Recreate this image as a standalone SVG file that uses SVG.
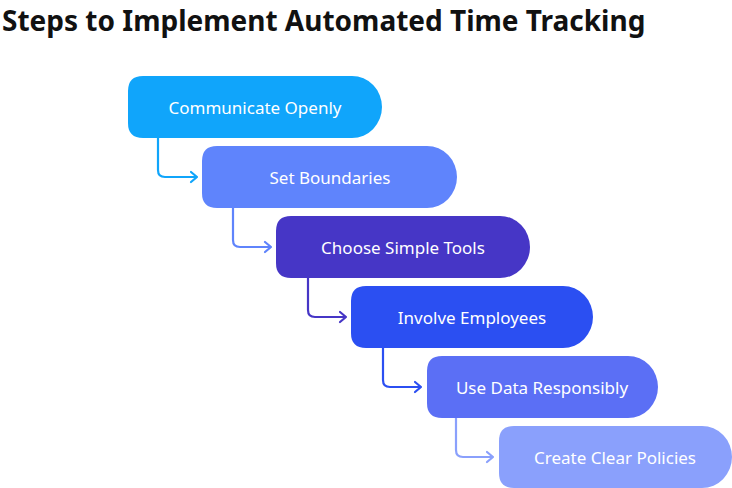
<svg xmlns="http://www.w3.org/2000/svg" width="732" height="488" viewBox="0 0 732 488">
<defs>
<style>
.t{font-family:"Noto Sans","Open Sans",sans-serif;font-size:17px;fill:#fff;text-anchor:middle;dominant-baseline:central}
.c{fill:none;stroke-width:2.2;stroke-linecap:round;stroke-linejoin:round}
</style>
</defs>
<rect width="732" height="488" fill="#fff"/>
<text x="2" y="31" font-family="Noto Sans,Open Sans,sans-serif" font-size="28" font-weight="700" fill="#111">Steps to Implement Automated Time Tracking</text>
<g id="connectors">
<path class="c" stroke="#10a5fb" d="M158 138V170Q158 177 165 177H197M191 172L197 177L191 182"/>
<path class="c" stroke="#5f84fc" d="M233 208V240Q233 247 240 247H271M265 242L271 247L265 252"/>
<path class="c" stroke="#4636c6" d="M308 278V310Q308 317 315 317H346M340 312L346 317L340 322"/>
<path class="c" stroke="#2b4ff2" d="M383 348V380Q383 387 390 387H421M415 382L421 387L415 392"/>
<path class="c" stroke="#8aa0fc" d="M456 418V450Q456 457 463 457H493M487 452L493 457L487 462"/>
</g>
<g id="n1"><path fill="#10a5fb" d="M143 76H352A30 31 0 0 1 352 138H143Q128 138 128 123V91Q128 76 143 76Z"/><text class="t" x="255" y="107">Communicate Openly</text></g>
<g id="n2"><path fill="#5f84fc" d="M217 146H427A30 31 0 0 1 427 208H217Q202 208 202 193V161Q202 146 217 146Z"/><text class="t" x="330" y="177">Set Boundaries</text></g>
<g id="n3"><path fill="#4636c6" d="M291 216H500A30 31 0 0 1 500 278H291Q276 278 276 263V231Q276 216 291 216Z"/><text class="t" x="403" y="247">Choose Simple Tools</text></g>
<g id="n4"><path fill="#2b4ff2" d="M366 286H563A30 31 0 0 1 563 348H366Q351 348 351 333V301Q351 286 366 286Z"/><text class="t" x="472" y="317">Involve Employees</text></g>
<g id="n5"><path fill="#5b6ff5" d="M442 356H628A30 31 0 0 1 628 418H442Q427 418 427 403V371Q427 356 442 356Z"/><text class="t" x="542" y="387">Use Data Responsibly</text></g>
<g id="n6"><path fill="#8aa0fc" d="M514 426H702A30 31 0 0 1 702 488H514Q499 488 499 473V441Q499 426 514 426Z"/><text class="t" x="615" y="457">Create Clear Policies</text></g>
</svg>
